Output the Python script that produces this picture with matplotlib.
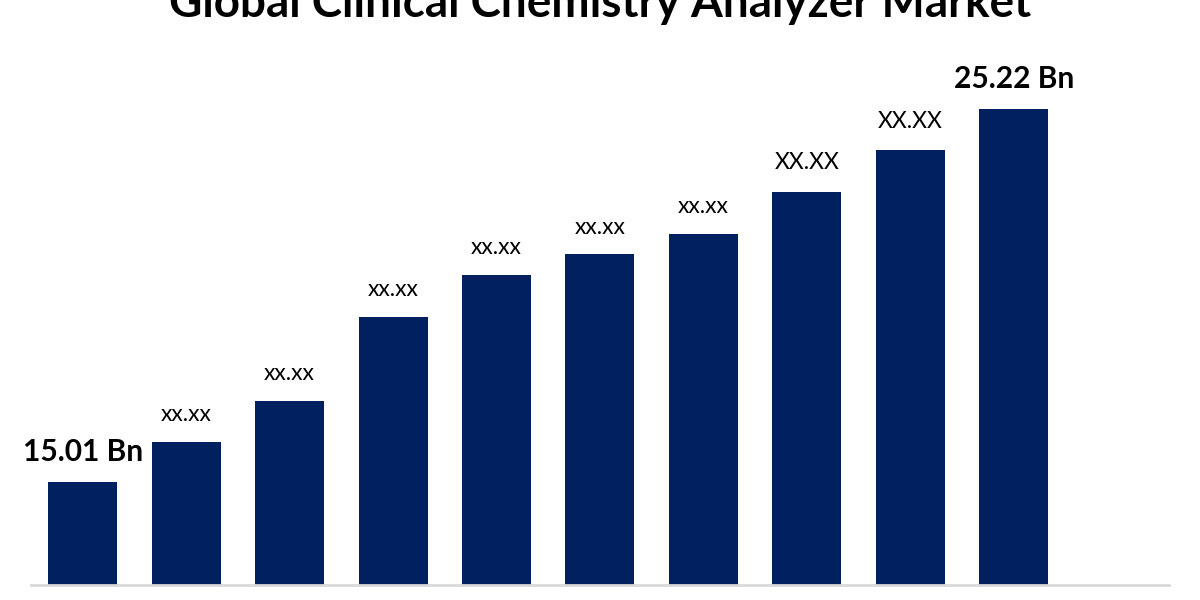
import matplotlib
matplotlib.use("Agg")
import matplotlib.pyplot as plt

# Data
categories = ["2023", "2024", "2025", "2026", "2027", "2028", "2029", "2030", "2031", "2032", ""]
values = [15.01, 16.13, 17.25, 19.55, 20.70, 21.25, 21.82, 22.97, 24.10, 25.22]
labels = ["15.01 Bn", "xx.xx", "xx.xx", "xx.xx", "xx.xx", "xx.xx", "xx.xx", "XX.XX", "XX.XX", "25.22 Bn"]
title = "Global Clinical Chemistry Analyzer Market"

bar_color = "#002060"
font = "Lato"

fig = plt.figure(figsize=(12, 6), dpi=100)
ax = fig.add_axes([0.0258, 0.0242, 0.9483, 0.8758])

x = list(range(len(values)))
bars = ax.bar(x, values, width=0.667, color=bar_color, zorder=2)

ax.set_xlim(-0.5, len(categories) - 0.5)
ax.set_ylim(12.19, 26.57)

for i, (v, lab) in enumerate(zip(values, labels)):
    if "Bn" in lab:
        fs, fw, off = 21.5, "bold", 12
    elif lab.isupper():
        fs, fw, off = 16.5, "normal", 13
    else:
        fs, fw, off = 16.5, "normal", 12
    ax.annotate(lab, xy=(i, v), xytext=(0, off), textcoords="offset points",
                ha="center", va="bottom", fontsize=fs, fontweight=fw,
                family=font, color="black", annotation_clip=False)

for s in ["top", "right", "left"]:
    ax.spines[s].set_visible(False)
ax.spines["bottom"].set_color("#d9d9d9")
ax.spines["bottom"].set_linewidth(2)
ax.set_xticks([])
ax.set_yticks([])

fig.text(0.5, 1 - 17 / 600, title, ha="center", va="baseline",
         fontsize=33, fontweight="bold", family=font, color="black")

fig.savefig("out.png", dpi=100, facecolor="white")
